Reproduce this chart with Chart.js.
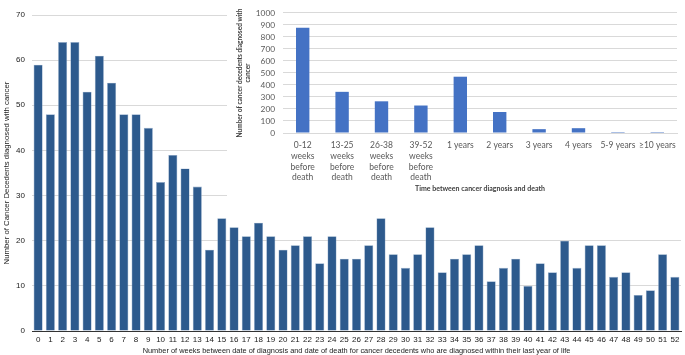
<!DOCTYPE html>
<html>
<head>
<meta charset="utf-8">
<script src="https://cdn.jsdelivr.net/npm/chart.js@4.4.0/dist/chart.umd.min.js"></script>
<style>
  body { margin: 0; background: #fff; }
  #wrap { position: relative; width: 685px; height: 355px; }
  #mainChart { position: absolute; left: 0; top: 0; }
  #insetChart { position: absolute; left: 227px; top: 0; background: #fff; }
</style>
</head>
<body>
<div id="wrap">
  <canvas id="mainChart" width="685" height="355"></canvas>
  <canvas id="insetChart" width="458" height="205"></canvas>
</div>
<script>
// weekly counts, weeks 0..52 before death
const weeks = [];
for (let w = 0; w <= 52; w++) weeks.push(String(w));
const weeklyCounts = [59, 48, 64, 64, 53, 61, 55, 48, 48, 45, 33, 39, 36, 32, 18, 25, 23, 21, 24, 21,
  18, 19, 21, 15, 21, 16, 16, 19, 25, 17, 14, 17, 23, 13, 16, 17, 19, 11, 14, 16,
  10, 15, 13, 20, 14, 19, 19, 12, 13, 8, 9, 17, 12];

// inset: time between diagnosis and death
const periods = [
  ['0-12', 'weeks', 'before', 'death'],
  ['13-25', 'weeks', 'before', 'death'],
  ['26-38', 'weeks', 'before', 'death'],
  ['39-52', 'weeks', 'before', 'death'],
  '1 years', '2 years', '3 years', '4 years', '5-9 years', '\u226510 years'
];
const periodCounts = [876, 343, 264, 229, 469, 175, 32, 40, 8, 8];

const mainFont = "'Liberation Sans', Arial, sans-serif";
const insetFont = "Lato, 'Open Sans', sans-serif";

new Chart(document.getElementById('mainChart'), {
  type: 'bar',
  data: {
    labels: weeks,
    datasets: [{
      data: weeklyCounts,
      backgroundColor: '#2d5a8d',
      borderColor: '#8fa9c8',
      borderWidth: 0.6,
      barPercentage: 0.78,
      categoryPercentage: 0.95
    }]
  },
  options: {
    responsive: false,
    animation: false,
    layout: { padding: { top: 15, right: 4, left: 0, bottom: 0 } },
    plugins: { legend: { display: false }, tooltip: { enabled: false } },
    scales: {
      x: {
        grid: { display: false, drawTicks: false },
        border: { color: '#333', width: 1 },
        ticks: { font: { family: mainFont, size: 8 }, color: '#1a1a1a', padding: 4, maxRotation: 0, autoSkip: false },
        title: {
          display: true,
          text: 'Number of weeks between date of diagnosis and date of death for cancer decedents who are diagnosed within their last year of life',
          font: { family: mainFont, size: 7.4 },
          color: '#1a1a1a',
          padding: { top: 2, bottom: 0 }
        },
        afterFit: s => { s.height = 24; }
      },
      y: {
        min: 0, max: 70,
        ticks: { stepSize: 10, font: { family: mainFont, size: 8 }, color: '#1a1a1a', padding: 7 },
        grid: { color: '#d9d9d9', drawTicks: false },
        border: { display: false },
        title: {
          display: true,
          text: 'Number of Cancer Decedents diagnosed with cancer',
          font: { family: mainFont, size: 7.8 },
          color: '#1a1a1a',
          padding: { top: 2, bottom: 0 }
        },
        afterFit: s => { s.width = 32; }
      }
    }
  }
});

new Chart(document.getElementById('insetChart'), {
  type: 'bar',
  data: {
    labels: periods,
    datasets: [{
      data: periodCounts,
      backgroundColor: '#4472c4',
      barPercentage: 0.34,
      categoryPercentage: 1.0
    }]
  },
  options: {
    responsive: false,
    animation: false,
    layout: { padding: { top: 9, right: 8, left: 0, bottom: 0 } },
    plugins: { legend: { display: false }, tooltip: { enabled: false } },
    scales: {
      x: {
        grid: { display: false, drawTicks: false },
        border: { color: '#d9d9d9', width: 1 },
        ticks: { font: { family: insetFont, size: 8.5, lineHeight: 1.26 }, color: '#595959', padding: 7, maxRotation: 0, autoSkip: false },
        title: {
          display: true,
          text: 'Time between cancer diagnosis and death',
          font: { family: insetFont, size: 7, weight: 'bold' },
          color: '#404040',
          padding: { top: 2, bottom: 12 }
        },
        afterFit: s => { s.height = 72; }
      },
      y: {
        min: 0, max: 1000,
        ticks: { stepSize: 100, autoSkip: false, callback: v => String(v), font: { family: insetFont, size: 8.3 }, color: '#595959', padding: 8 },
        grid: { color: '#d9d9d9', drawTicks: false },
        border: { display: false },
        title: {
          display: true,
          text: ['Number of cancer decedents diagnosed with', 'cancer'],
          font: { family: insetFont, size: 6.5, weight: 'bold', lineHeight: 1.2 },
          color: '#404040',
          padding: { top: 9, bottom: 0 }
        },
        afterFit: s => { s.width = 56; }
      }
    }
  }
});
</script>
</body>
</html>
